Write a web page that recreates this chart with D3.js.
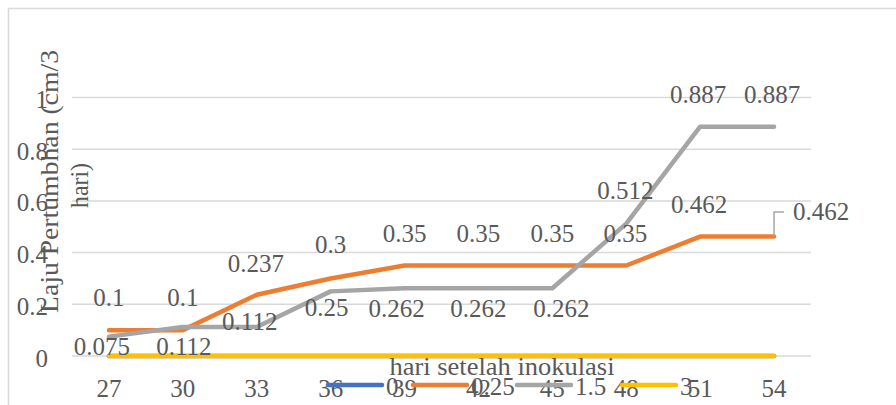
<!DOCTYPE html>
<html><head><meta charset="utf-8">
<script src="https://cdn.jsdelivr.net/npm/d3@7/dist/d3.min.js"></script>
<style>body{margin:0;background:#fff}svg{display:block}</style>
</head><body><svg id="c" width="896" height="405"></svg>
<script>
const categories = ["27","30","33","36","39","42","45","48","51","54"];
const seriesNames = ["0","0.25","1.5","3"];
const blueValues   = [0,0,0,0,0,0,0,0,0,0];
const orangeValues = [0.1,0.1,0.237,0.3,0.35,0.35,0.35,0.35,0.462,0.462];
const grayValues   = [0.075,0.112,0.112,0.25,0.262,0.262,0.262,0.512,0.887,0.887];
const yellowValues = [0,0,0,0,0,0,0,0,0,0];
const yTicks = [0,0.2,0.4,0.6,0.8,1];
const yTickLabels = ["0","0.2","0.4","0.6","0.8","1"];
const xTitle = "hari setelah inokulasi";
const yTitle1 = "Laju Pertumbhan (cm/3";
const yTitle2 = "hari)";

// label placement (style, not data)
const orangeLabelDy = [-24,-24,-23,-25,-23.5,-23.5,-23.5,-23.5,-23.5,null];
const orangeLabelDx = [0,0,-1,0,0,0,0,-1,-1,0];
const grayLabelDy = [18.5,28,3,25,29,29,29,-24.5,-24,-24];
const grayLabelDx = [-7,1,-7,-4,-8,0,9,-1,-2,-2];

const FONT = '"Liberation Serif", Tinos, "Times New Roman", "Noto Serif", "DejaVu Serif", serif';
const colors = ["#4472C4","#ED7D31","#A5A5A5","#FFC000"];
const svg = d3.select("#c").attr("font-family", FONT);
const FS = 25;
const TXT = "#595959";

svg.append("rect").attr("x",8.5).attr("y",8.5).attr("width",1000).attr("height",1000)
  .attr("fill","none").attr("stroke","#d9d9d9").attr("stroke-width",1.5);

const x = d3.scaleBand().domain(categories).range([72,811]);
const xc = c => x(c) + x.bandwidth()/2;
const y = d3.scaleLinear().domain([0,1]).range([356,97.5]);

function txt(sel){ return sel.attr("font-family",FONT).attr("fill",TXT); }

// gridlines
svg.append("g").selectAll("line").data(yTicks).join("line")
  .attr("x1",72).attr("x2",811).attr("y1",d=>y(d)).attr("y2",d=>y(d))
  .attr("stroke","#d9d9d9").attr("stroke-width",1.5);

// y tick labels
txt(svg.append("g").selectAll("text").data(yTicks).join("text"))
  .attr("x",48).attr("y",d=>y(d)+10.5).attr("text-anchor","end")
  .attr("font-size",FS).text((d,i)=>yTickLabels[i]);

// x tick labels
txt(svg.append("g").selectAll("text").data(categories).join("text"))
  .attr("x",d=>xc(d)).attr("y",397).attr("text-anchor","middle")
  .attr("font-size",FS).text(d=>d);

// lines
const allSeries = [blueValues, orangeValues, grayValues, yellowValues];
const line = d3.line().x((d,i)=>xc(categories[i])).y(d=>y(d));
allSeries.forEach((vals,k)=>{
  svg.append("path").attr("d",line(vals)).attr("fill","none")
    .attr("stroke",colors[k]).attr("stroke-width",4.5)
    .attr("stroke-linecap","round").attr("stroke-linejoin","round");
});

// orange labels
orangeValues.forEach((v,i)=>{
  if (orangeLabelDy[i] === null) return;
  txt(svg.append("text")).attr("x",xc(categories[i])+orangeLabelDx[i]).attr("y",y(v)+orangeLabelDy[i])
    .attr("text-anchor","middle").attr("font-size",FS).text(String(v));
});
// callout for last orange point
{
  const i = orangeValues.length-1, v = orangeValues[i];
  const px = xc(categories[i]), py = y(v);
  svg.append("path").attr("d",`M${px},${py} V${py-24.5} H${px+10}`)
    .attr("fill","none").attr("stroke","#a6a6a6").attr("stroke-width",1.5);
  txt(svg.append("text")).attr("x",px+19).attr("y",py-16.5).attr("font-size",FS).text(String(v));
}
// gray labels
grayValues.forEach((v,i)=>{
  txt(svg.append("text")).attr("x",xc(categories[i])+grayLabelDx[i]).attr("y",y(v)+grayLabelDy[i])
    .attr("text-anchor","middle").attr("font-size",FS).text(String(v));
});

// axis titles
txt(svg.append("text")).attr("x",502).attr("y",375).attr("text-anchor","middle")
  .attr("font-size",FS).attr("textLength",225).attr("lengthAdjust","spacingAndGlyphs").text(xTitle);
txt(svg.append("text")).attr("transform","translate(58,181.5) rotate(-90)").attr("text-anchor","middle")
  .attr("font-size",25).attr("textLength",263).attr("lengthAdjust","spacingAndGlyphs").text(yTitle1);
txt(svg.append("text")).attr("transform","translate(88,185.5) rotate(-90)").attr("text-anchor","middle")
  .attr("font-size",25).attr("textLength",45).attr("lengthAdjust","spacingAndGlyphs").text(yTitle2);

// legend
const legX = [328,413,517,622];
seriesNames.forEach((n,k)=>{
  svg.append("line").attr("x1",legX[k]).attr("x2",legX[k]+54).attr("y1",385).attr("y2",385)
    .attr("stroke",colors[k]).attr("stroke-width",4.5).attr("stroke-linecap","round");
  txt(svg.append("text")).attr("x",legX[k]+58).attr("y",395).attr("font-size",FS).text(n);
});
</script></body></html>
